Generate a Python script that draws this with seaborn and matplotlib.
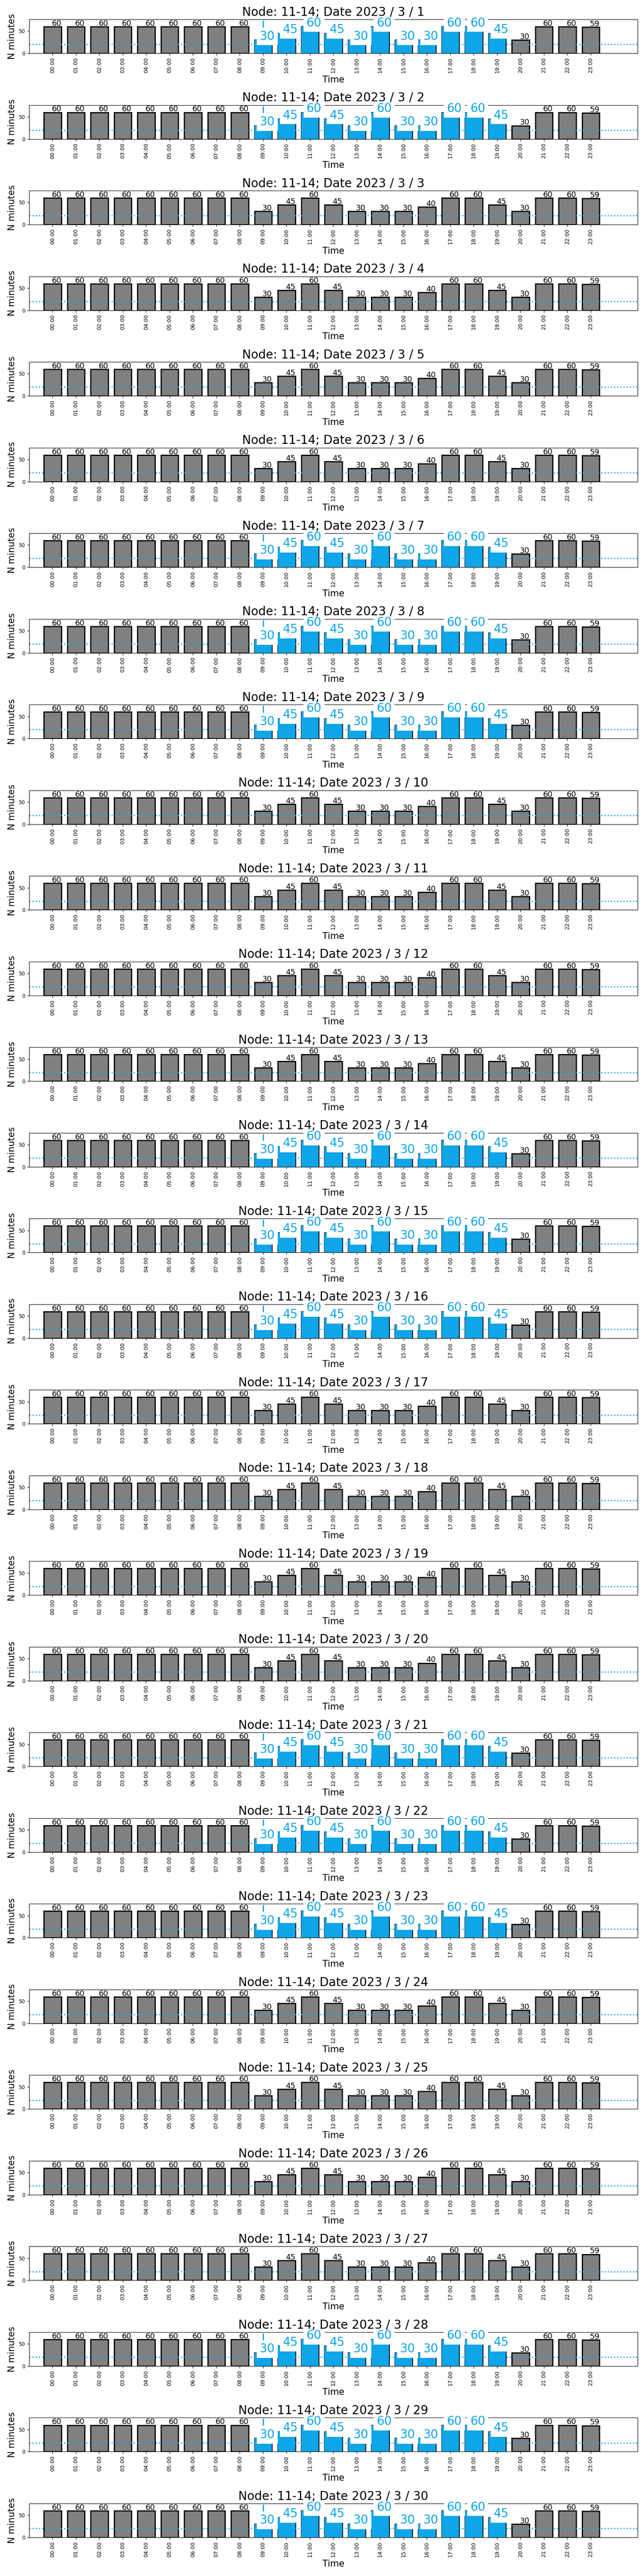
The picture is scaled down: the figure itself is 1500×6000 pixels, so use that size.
import matplotlib
matplotlib.use("Agg")
import matplotlib.pyplot as plt
import pandas as pd
import seaborn as sns

# Data
hours = ["00:00", "01:00", "02:00", "03:00", "04:00", "05:00", "06:00", "07:00",
         "08:00", "09:00", "10:00", "11:00", "12:00", "13:00", "14:00", "15:00",
         "16:00", "17:00", "18:00", "19:00", "20:00", "21:00", "22:00", "23:00"]
days = list(range(1, 31))
highlight_days = [1, 2, 7, 8, 9, 14, 15, 16, 21, 22, 23, 28, 29, 30]
highlight_hours = ["09:00", "10:00", "11:00", "12:00", "13:00", "14:00",
                   "15:00", "16:00", "17:00", "18:00", "19:00"]
minutes_highlight = [60, 60, 60, 60, 60, 60, 60, 60, 60, 30, 45, 60,
                     45, 30, 60, 30, 30, 60, 60, 45, 30, 60, 60, 59]
minutes_other = [60, 60, 60, 60, 60, 60, 60, 60, 60, 30, 45, 60,
                 45, 30, 30, 30, 40, 60, 60, 45, 30, 60, 60, 59]
threshold = 20

BLUE = "#0EA5E9"

fig, axes = plt.subplots(len(days), 1, figsize=(15, 60), dpi=100)
fig.subplots_adjust(left=0.0453, right=0.99, top=0.9925, bottom=0.015, hspace=1.525)

for ax, day in zip(axes, days):
    hl = day in highlight_days
    vals = minutes_highlight if hl else minutes_other
    df = pd.DataFrame({"Time": hours, "N minutes": vals})

    sns.barplot(data=df, x="Time", y="N minutes", order=hours, color="grey",
                edgecolor="black", linewidth=2, width=0.75, saturation=1,
                errorbar=None, ax=ax)
    ax.axhline(threshold, color=BLUE, ls=":", lw=2, zorder=2)
    if hl:
        ax.axvline(hours.index(highlight_hours[0]), color=BLUE, ls="-.", lw=2, zorder=2)
        n_before = len(ax.patches)
        sns.barplot(data=df[df["Time"].isin(highlight_hours)], x="Time", y="N minutes",
                    order=hours, color=BLUE, linewidth=0, width=0.75, saturation=1,
                    errorbar=None, ax=ax)
        # blue bars sit over the threshold line
        for p in ax.patches[n_before:]:
            p.set_zorder(2.2)

    # value labels
    for i, (h, v) in enumerate(zip(hours, vals)):
        if hl and h in highlight_hours:
            ax.text(i + 0.17, v + 0.5, str(v), ha="center", va="baseline",
                    fontsize=20, color=BLUE, zorder=3,
                    bbox=dict(facecolor="white", edgecolor="none", boxstyle="square,pad=0.25"))
        else:
            ax.text(i + 0.17, v + 2, str(v), ha="center", va="baseline",
                    fontsize=13, color="black", zorder=3)

    ax.set_xlim(-1, 25)
    ax.set_ylim(0, 76.5)
    ax.set_yticks([0, 50])
    ax.tick_params(axis="x", labelrotation=90, labelsize=9)
    ax.tick_params(axis="y", labelsize=8.5)
    ax.set_xlabel("Time", fontsize=15)
    ax.set_ylabel("N minutes", fontsize=15)
    ax.set_title(f"Node: 11-14; Date 2023 / 3 / {day}", fontsize=20)

fig.savefig("out.png", dpi=100)
